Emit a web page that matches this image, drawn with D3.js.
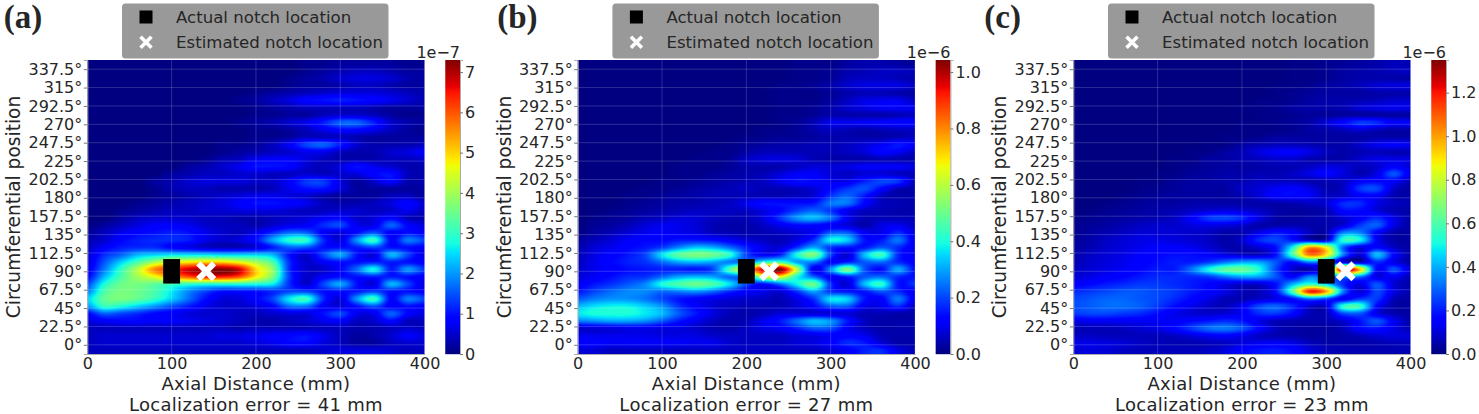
<!DOCTYPE html><html lang="en"><head><meta charset="utf-8">
<title>Notch localization maps</title>
<style>
body { margin: 0; background: #fff; }
text { font-family: "DejaVu Sans", sans-serif; fill: #262626; }
</style>
<script src="https://cdn.jsdelivr.net/npm/d3@7"></script>
</head>
<body>
<div id="chart"></div>
<script>
// angle and distance ticks
const angleTicks = [0, 22.5, 45, 67.5, 90, 112.5, 135, 157.5, 180, 202.5, 225, 247.5, 270, 292.5, 315, 337.5];
const distanceTicks = [0, 100, 200, 300, 400];
const gridDistances = [0, 20, 40, 60, 80, 100, 120, 140, 160, 180, 200, 220, 240, 260, 280, 300, 320, 340, 360, 380, 400];

const panelLabels = ["(a)", "(b)", "(c)"];
const errorsMm = [41, 27, 23];
const actualNotch = [100, 200, 300];
const estimatedNotch = [141, 227, 323];
const notchAngle = 90;

// colorbar: max in 1e-8 units, ticks in the unit of the offset label
const colorMax = [73, 104.3, 135];
const colorExponent = ["1e−7", "1e−6", "1e−6"];
const colorTicks = [[0, 1, 2, 3, 4, 5, 6, 7], [0, 0.2, 0.4, 0.6, 0.8, 1.0], [0, 0.2, 0.4, 0.6, 0.8, 1.0, 1.2]];
const colorTickScale = [10, 100, 100];

// values, 1e-8 units, rows top to bottom, columns = gridDistances
const gridA = [
[0,0,0,0,0,0,0,0,0,0,0,0,0,1,1,2,2,2,2,1,1],
[0,0,0,0,0,0,0,0,0,0,0,0,0,1,2,3,4,4,3,2,2],
[0,0,0,0,0,0,0,0,0,0,0,0,1,2,3,5,6,6,5,3,2],
[0,0,0,0,0,0,0,0,0,0,0,0,1,2,2,3,4,4,3,2,2],
[0,0,0,0,0,0,0,0,0,0,1,2,3,4,5,6,6,6,5,4,3],
[0,0,0,0,0,0,0,0,0,1,2,4,6,9,10,11,10,9,7,5,3],
[0,0,0,0,0,0,0,0,0,0,1,2,3,4,4,4,4,3,2,2,2],
[0,0,0,0,0,0,0,0,0,0,1,1,2,2,4,5,5,4,2,1,1],
[0,0,0,0,0,0,0,0,0,1,2,3,5,7,11,16,16,11,5,3,2],
[0,0,0,0,0,0,0,0,0,0,1,1,2,4,7,9,9,7,4,2,1],
[0,0,0,0,0,0,0,0,0,0,1,1,2,4,4,4,3,2,2,2,2],
[0,0,0,0,0,0,0,0,1,1,2,4,8,14,16,11,5,3,3,3,4],
[0,0,0,0,0,0,0,0,1,2,3,4,5,7,7,4,3,3,5,6,8],
[0,0,0,0,0,0,0,1,3,4,7,8,8,6,4,3,3,3,4,4,5],
[0,0,0,0,0,0,2,3,5,7,10,10,9,5,4,6,10,7,5,3,3],
[0,0,0,0,0,2,3,4,4,5,5,4,4,5,4,5,6,9,10,4,3],
[0,0,0,0,2,3,5,6,6,6,5,5,8,13,13,6,2,5,9,3,3],
[0,0,0,0,1,3,4,4,3,3,3,4,7,10,10,6,2,2,2,2,2],
[0,0,0,0,1,2,3,4,5,6,7,7,6,5,3,2,2,2,4,4,2],
[0,0,0,1,2,3,4,5,6,8,10,10,9,7,4,3,3,4,6,9,5],
[0,0,1,2,3,4,4,5,5,6,6,6,5,4,4,5,5,4,5,7,4],
[0,0,2,4,5,5,5,4,4,3,3,4,5,6,8,9,5,6,9,4,3],
[0,2,4,6,8,8,7,5,4,4,3,5,7,8,12,14,7,7,16,9,6],
[2,4,7,9,10,11,10,7,5,4,7,12,17,16,8,6,10,15,8,10,8],
[3,5,9,11,12,12,11,7,5,6,10,21,29,29,12,6,20,30,9,18,14],
[4,8,11,12,12,9,7,5,4,4,6,11,16,15,10,10,11,14,10,10,8],
[5,12,16,22,24,25,25,25,24,24,24,22,10,5,14,21,10,6,22,14,6],
[6,15,24,32,40,46,48,50,50,46,40,32,12,5,8,10,10,11,11,10,8],
[7,18,30,42,56,62,68,71,73,68,50,38,12,5,5,9,17,27,11,20,13],
[9,22,32,40,46,54,60,64,64,60,48,36,13,5,8,10,10,11,11,10,8],
[14,28,35,36,34,31,30,29,29,29,28,26,12,5,14,21,10,6,22,14,6],
[18,32,36,35,32,26,19,14,10,10,10,12,14,14,10,10,11,14,10,10,8],
[24,34,36,34,30,24,17,10,6,6,9,14,26,30,12,6,20,30,9,18,14],
[20,30,28,24,20,15,11,7,5,5,6,9,17,17,8,6,10,15,8,10,8],
[9,16,14,12,9,8,6,5,5,4,4,5,6,6,10,14,7,7,16,9,6],
[6,8,9,9,8,8,7,6,5,4,3,3,4,5,7,8,4,5,9,4,4],
[4,4,4,4,4,4,4,4,4,3,4,4,4,4,4,4,3,3,4,5,4],
[4,5,5,5,5,5,5,5,6,6,7,8,9,10,7,4,2,3,5,8,6],
[4,5,5,5,5,5,5,5,5,5,6,7,9,9,6,4,2,2,4,5,5],
[4,4,4,4,4,4,4,4,4,4,4,4,4,4,5,6,6,6,5,4,4]
];
const gridB = [
[0,0,0,0,0,0,0,0,0,0,0,0,0,1,1,1,3,4,4,3,2],
[0,0,0,0,0,0,0,0,0,0,0,0,0,1,1,2,4,5,6,6,5],
[0,0,0,0,0,0,0,0,0,0,0,0,0,1,1,2,5,6,6,5,4],
[0,0,0,0,0,0,0,0,0,0,0,0,1,1,2,4,7,9,9,9,6],
[0,0,0,0,0,0,0,0,0,0,0,0,1,1,1,2,4,5,5,4,3],
[0,0,0,0,0,0,0,0,0,0,0,0,1,1,1,3,6,9,10,10,6],
[0,0,0,0,0,0,0,0,0,0,0,0,1,1,2,4,7,9,11,11,10],
[0,0,0,0,0,0,0,0,0,0,0,0,1,1,2,4,4,4,4,5,6],
[0,0,0,0,0,0,0,0,0,0,0,0,1,2,5,10,10,11,12,13,13],
[0,0,0,0,0,0,0,0,0,0,0,1,1,2,4,6,5,4,5,6,6],
[0,0,0,0,0,0,0,0,0,0,1,1,2,2,3,4,4,4,4,5,6],
[0,0,0,0,0,0,0,0,0,1,2,3,4,4,5,5,6,8,11,15,12],
[0,0,0,0,0,0,0,0,1,1,3,5,5,5,5,5,6,8,13,11,6],
[0,0,0,0,0,0,0,1,1,2,6,8,9,8,5,4,4,4,5,4,4],
[0,0,0,0,0,0,1,1,1,2,4,4,4,6,8,8,9,11,11,11,9],
[0,0,0,0,0,0,1,1,2,3,4,5,8,11,11,8,6,8,8,6,5],
[0,0,0,0,0,1,1,2,3,4,5,6,10,14,13,10,10,16,20,18,6],
[0,0,0,0,1,1,2,3,4,5,6,5,5,6,8,13,18,21,13,5,4],
[0,0,0,1,1,2,3,4,5,5,5,5,5,6,8,18,23,15,6,4,4],
[0,0,0,1,2,3,4,4,5,6,10,14,14,14,15,25,25,13,6,5,4],
[0,0,1,2,3,4,5,6,6,6,6,9,13,19,23,18,10,6,5,4,4],
[0,1,2,3,5,6,8,8,6,5,5,9,18,28,32,25,11,5,5,5,5],
[0,2,3,5,8,10,10,8,5,4,4,6,10,13,13,11,8,4,9,10,6],
[1,3,5,8,10,11,10,9,6,5,4,5,6,8,11,22,22,11,10,17,9],
[3,5,8,11,13,13,15,15,14,11,8,6,5,9,18,38,34,15,15,25,10],
[4,8,10,13,15,19,27,33,31,24,16,10,8,18,30,18,15,15,22,17,10],
[5,9,12,15,20,36,48,52,50,42,20,12,16,40,52,20,8,32,44,17,10],
[6,10,13,16,18,24,30,32,30,26,26,40,45,30,26,12,16,22,24,17,12],
[7,10,12,14,15,16,16,15,20,46,70,96,105,60,10,28,52,22,14,30,14],
[8,11,14,17,18,24,30,32,30,24,28,60,66,40,24,12,16,22,24,17,14],
[11,15,18,22,27,40,46,50,46,36,20,14,24,38,50,18,8,32,42,15,18],
[15,20,24,27,27,24,26,28,24,17,12,10,8,18,30,18,15,15,22,17,10],
[22,26,28,28,25,20,15,12,10,8,7,6,5,10,18,36,34,15,12,25,10],
[32,36,38,38,34,28,18,12,8,6,5,5,5,8,13,22,22,10,10,17,6],
[37,40,40,40,37,32,22,15,9,5,4,5,8,8,8,8,8,5,5,4,4],
[26,28,30,30,28,22,15,10,6,4,5,10,15,24,32,28,15,6,4,4,4],
[7,8,9,10,10,9,9,7,5,4,6,9,11,16,22,21,11,6,4,4,4],
[10,10,10,10,10,9,9,9,7,6,6,6,6,8,9,11,12,10,5,4,4],
[12,12,11,11,11,11,11,10,10,7,6,6,6,8,9,12,17,15,8,4,4],
[8,8,6,6,6,6,6,6,6,6,6,6,6,6,6,8,11,16,17,9,5]
];
const gridC = [
[0,0,0,0,0,0,0,0,0,0,0,0,0,1,1,2,3,4,5,7,6],
[0,0,0,0,0,0,0,0,0,0,0,0,0,1,1,2,4,5,6,7,8],
[0,0,0,0,0,0,0,0,0,0,0,0,0,1,1,2,4,5,5,5,4],
[0,0,0,0,0,0,0,0,0,0,0,0,1,1,2,4,5,7,10,11,11],
[0,0,0,0,0,0,0,0,0,0,0,0,1,2,3,4,4,4,5,5,5],
[0,0,0,0,0,0,0,0,0,0,0,1,1,2,4,5,5,6,7,9,9],
[0,0,0,0,0,0,0,0,0,0,1,1,2,4,5,5,6,10,12,13,12],
[0,0,0,0,0,0,0,0,0,0,0,1,1,2,3,3,4,4,4,4,4],
[0,0,0,0,0,0,0,0,0,0,1,1,2,3,5,10,17,24,22,15,15],
[0,0,0,0,0,0,0,0,0,0,1,1,1,2,4,5,7,10,7,5,5],
[0,0,0,0,0,0,0,0,0,1,1,2,4,4,4,4,4,4,5,5,5],
[0,0,0,0,0,0,0,0,1,1,4,6,7,7,6,5,5,9,13,15,13],
[0,0,0,0,0,0,0,1,1,4,6,11,14,15,12,7,5,6,7,6,6],
[0,0,0,0,0,0,1,1,4,4,6,7,9,9,6,5,5,9,12,12,11],
[0,0,0,0,0,0,1,2,3,4,4,5,6,6,8,11,10,7,9,15,10],
[0,0,0,0,0,1,1,3,4,5,5,6,6,8,12,16,11,6,12,28,12],
[0,0,0,0,1,1,3,4,4,5,6,8,8,8,6,6,8,15,17,15,6],
[0,0,0,0,1,2,3,4,4,4,8,10,14,16,12,6,8,24,26,9,4],
[0,0,0,1,2,3,4,4,4,4,6,10,16,17,14,8,9,15,15,6,5],
[0,0,1,2,3,4,4,5,5,5,5,5,5,6,8,10,22,22,12,8,6],
[0,1,2,3,4,5,6,8,10,11,10,8,5,4,4,6,17,17,11,6,5],
[1,2,3,4,5,6,8,15,24,26,22,12,5,4,5,6,10,15,22,12,5],
[2,3,4,6,8,9,9,11,12,11,9,5,5,6,5,5,10,24,29,12,4],
[2,4,6,8,10,10,10,9,8,5,6,12,19,16,8,6,34,34,15,5,4],
[3,5,8,10,12,12,11,10,8,5,9,22,26,19,10,10,54,50,15,5,4],
[4,6,9,11,13,15,15,13,10,6,6,10,18,50,100,85,30,12,17,8,4],
[5,8,10,12,15,17,18,18,16,12,9,8,18,58,105,90,34,10,42,17,5],
[6,9,11,13,16,18,20,20,24,32,38,38,28,18,34,28,12,8,22,12,5],
[8,10,12,14,17,20,20,32,50,62,64,52,26,10,6,30,130,95,16,28,10],
[10,12,15,17,20,22,22,22,24,32,38,38,28,16,34,28,36,32,12,14,6],
[15,17,20,22,24,24,22,20,17,12,9,9,18,40,55,45,22,12,28,10,5],
[22,24,26,28,28,26,24,20,17,12,7,7,18,60,118,100,34,10,26,12,5],
[26,28,30,30,28,26,22,17,12,7,6,9,12,18,32,26,14,24,24,7,4],
[27,29,31,31,29,24,18,13,9,7,14,26,30,22,10,10,54,56,17,5,4],
[24,26,26,24,22,18,13,10,9,10,14,22,24,17,7,7,26,28,12,6,4],
[12,14,14,14,14,14,14,17,19,22,19,12,7,6,5,6,10,19,28,14,5],
[6,7,7,8,10,12,17,24,31,33,28,17,8,5,4,4,7,17,19,12,6],
[8,8,7,7,7,7,8,11,14,16,13,8,6,5,4,4,5,7,10,11,10],
[12,12,11,10,8,7,6,6,7,8,11,13,14,12,7,5,5,5,6,7,7],
[10,11,10,8,7,7,7,7,8,11,16,19,20,17,11,7,6,6,6,6,6]
];
const grids = [gridA, gridB, gridC];

// matplotlib jet
const jetR = d3.scaleLinear().domain([0, 0.35, 0.66, 0.89, 1]).range([0, 0, 1, 1, 0.5]).clamp(true);
const jetG = d3.scaleLinear().domain([0, 0.125, 0.375, 0.64, 0.91, 1]).range([0, 0, 1, 1, 0, 0]).clamp(true);
const jetB = d3.scaleLinear().domain([0, 0.11, 0.34, 0.65, 1]).range([0.5, 1, 1, 0, 0]).clamp(true);
const jet = t => [jetR(t) * 255, jetG(t) * 255, jetB(t) * 255];

const width = 1479, height = 414;
const plotTop = 60, plotBottom = 354, plotWidth = 337.3;
const plotLefts = [87.3, 577.7, 1073.3];
const barOffset = 358, barWidth = 14.7;
const legendOffset = 34.7;

const svg = d3.select("#chart").append("svg")
	.attr("width", width)
	.attr("height", height)
	.style("display", "block");

const x = d3.scaleLinear().domain([0, 400]).range([0, plotWidth]);
const y = d3.scaleLinear().domain([-11.25, 348.75]).range([plotBottom, plotTop]);

// same job as imshow's smoothing
function catmull(p0, p1, p2, p3, t) {
	return 0.5 * (2 * p1 + (p2 - p0) * t + (2 * p0 - 5 * p1 + 4 * p2 - p3) * t * t + (3 * p1 - p0 - 3 * p2 + p3) * t * t * t);
}

function sample(grid, col, row) {
	const r = Math.floor(row), c = Math.floor(col);
	const at = (i, j) => grid[Math.max(0, Math.min(grid.length - 1, i))][Math.max(0, Math.min(gridDistances.length - 1, j))];
	const rows = [-1, 0, 1, 2].map(k => catmull(at(r + k, c - 1), at(r + k, c), at(r + k, c + 1), at(r + k, c + 2), col - c));
	return catmull(rows[0], rows[1], rows[2], rows[3], row - r);
}

function heatmapUrl(grid, max) {
	const w = Math.round(plotWidth), h = plotBottom - plotTop;
	const canvas = document.createElement("canvas");
	canvas.width = w;
	canvas.height = h;
	const ctx = canvas.getContext("2d");
	const img = ctx.createImageData(w, h);
	const colOf = d3.scaleLinear().domain([0, 400]).range([0, gridDistances.length - 1]);
	const rowOf = d3.scaleLinear().domain([0, h]).range([-0.5, grid.length - 0.5]);
	for (let j = 0; j < h; j++) {
		for (let i = 0; i < w; i++) {
			const v = sample(grid, colOf(x.invert((i + 0.5) * plotWidth / w)), rowOf(j + 0.5));
			const c = jet(Math.max(0, v) / max);
			const k = (j * w + i) * 4;
			img.data[k] = c[0];
			img.data[k + 1] = c[1];
			img.data[k + 2] = c[2];
			img.data[k + 3] = 255;
		}
	}
	ctx.putImageData(img, 0, 0);
	return canvas.toDataURL();
}

panelLabels.forEach((label, p) => {
	const left = plotLefts[p];
	const g = svg.append("g").attr("transform", `translate(${left}, 0)`);

	g.append("image")
		.attr("x", 0)
		.attr("y", plotTop)
		.attr("width", plotWidth)
		.attr("height", plotBottom - plotTop)
		.attr("preserveAspectRatio", "none")
		.attr("href", heatmapUrl(grids[p], colorMax[p]));

	// grid lines
	g.append("g").selectAll("line").data(angleTicks).join("line")
		.attr("x1", 0).attr("x2", plotWidth)
		.attr("y1", d => y(d)).attr("y2", d => y(d))
		.attr("stroke", "#fff").attr("stroke-opacity", 0.18);
	g.append("g").selectAll("line").data(distanceTicks).join("line")
		.attr("x1", d => x(d)).attr("x2", d => x(d))
		.attr("y1", plotTop).attr("y2", plotBottom)
		.attr("stroke", "#fff").attr("stroke-opacity", 0.18);

	// axes
	const xAxis = g.append("g")
		.attr("transform", `translate(0, ${plotBottom})`)
		.call(d3.axisBottom(x).tickValues(distanceTicks).tickSize(0).tickPadding(4));
	const yAxis = g.append("g")
		.call(d3.axisLeft(y).tickValues(angleTicks).tickFormat(d => d + "°").tickSize(3.5).tickPadding(1.5));
	for (const axis of [xAxis, yAxis]) {
		axis.selectAll("text").style("font-size", "16px").style("font-family", "'DejaVu Sans'").attr("fill", "#262626");
		axis.selectAll(".tick line").attr("stroke", "#777");
	}
	xAxis.select(".domain").attr("stroke", "#aaa");
	yAxis.select(".domain").attr("stroke", "#aaa").attr("stroke-width", 1);

	// axis titles
	g.append("text")
		.attr("x", plotWidth / 2).attr("y", 390)
		.attr("text-anchor", "middle").style("font-size", "18px").style("letter-spacing", "0.3px")
		.text("Axial Distance (mm)");
	g.append("text")
		.attr("x", plotWidth / 2).attr("y", 411)
		.attr("text-anchor", "middle").style("font-size", "18px").style("letter-spacing", "0.3px")
		.text(`Localization error = ${errorsMm[p]} mm`);
	g.append("text")
		.attr("transform", `translate(-67, ${(plotTop + plotBottom) / 2}) rotate(-90)`)
		.attr("text-anchor", "middle").style("font-size", "18.6px")
		.text("Circumferential position");

	// notch markers
	g.append("rect")
		.attr("x", x(actualNotch[p] - 10))
		.attr("width", x(actualNotch[p] + 10) - x(actualNotch[p] - 10))
		.attr("y", y(notchAngle + 15))
		.attr("height", y(notchAngle - 15) - y(notchAngle + 15))
		.attr("fill", "#000");
	g.append("path")
		.attr("transform", `translate(${x(estimatedNotch[p])}, ${y(notchAngle)})`)
		.attr("d", d3.symbol(d3.symbolX, 163))
		.attr("fill", "none").attr("stroke", "#fff").attr("stroke-width", 6);

	// colorbar
	const c = d3.scaleLinear().domain([0, colorMax[p]]).range([plotBottom, plotTop]);
	const bar = g.append("g").attr("transform", `translate(${barOffset}, 0)`);
	bar.selectAll("rect").data(d3.range(0, plotBottom - plotTop)).join("rect")
		.attr("x", 0).attr("width", barWidth)
		.attr("y", d => plotTop + d).attr("height", 1.2)
		.attr("fill", d => {
			const col = jet(c.invert(plotTop + d + 0.5) / colorMax[p]);
			return d3.rgb(col[0], col[1], col[2]);
		});
	const barScale = d3.scaleLinear().domain([0, colorMax[p] / colorTickScale[p]]).range([plotBottom, plotTop]);
	const barAxis = bar.append("g")
		.attr("transform", `translate(${barWidth}, 0)`)
		.call(d3.axisRight(barScale).tickValues(colorTicks[p]).tickFormat(d3.format(p === 0 ? "d" : ".1f")).tickSize(3).tickPadding(2));
	barAxis.selectAll("text").style("font-size", "16px").style("font-family", "'DejaVu Sans'").attr("fill", "#262626");
	barAxis.select(".domain").attr("stroke", "#aaa");
	barAxis.selectAll(".tick line").attr("stroke", "#777");
	bar.append("text")
		.attr("x", barWidth).attr("y", 58)
		.attr("text-anchor", "end").style("font-size", "16px")
		.text(colorExponent[p]);

	// legend
	const legend = g.append("g").attr("transform", `translate(${legendOffset}, 0)`);
	legend.append("rect")
		.attr("x", 0).attr("y", 3.5)
		.attr("width", 266.5).attr("height", 55)
		.attr("rx", 3.5)
		.attr("fill", "#999");
	legend.append("rect")
		.attr("x", 17.5).attr("y", 10.5).attr("width", 13).attr("height", 13)
		.attr("fill", "#000");
	legend.append("path")
		.attr("transform", "translate(24, 42.3)")
		.attr("d", d3.symbol(d3.symbolX, 80))
		.attr("fill", "none").attr("stroke", "#fff").attr("stroke-width", 3.6);
	legend.append("text")
		.attr("x", 54).attr("y", 23)
		.style("font-size", "16.6px")
		.text("Actual notch location");
	legend.append("text")
		.attr("x", 54).attr("y", 48)
		.style("font-size", "16.6px")
		.text("Estimated notch location");

	// panel letter
	svg.append("text")
		.attr("x", left - 83.5 + (p === 1 ? 3 : 0) - (p === 2 ? 5.5 : 0))
		.attr("y", 28)
		.style("font-family", "'Liberation Serif'")
		.style("font-weight", "bold")
		.style("font-size", "33px")
		.attr("fill", "#333")
		.text(label);
});
</script>
</body>
</html>
